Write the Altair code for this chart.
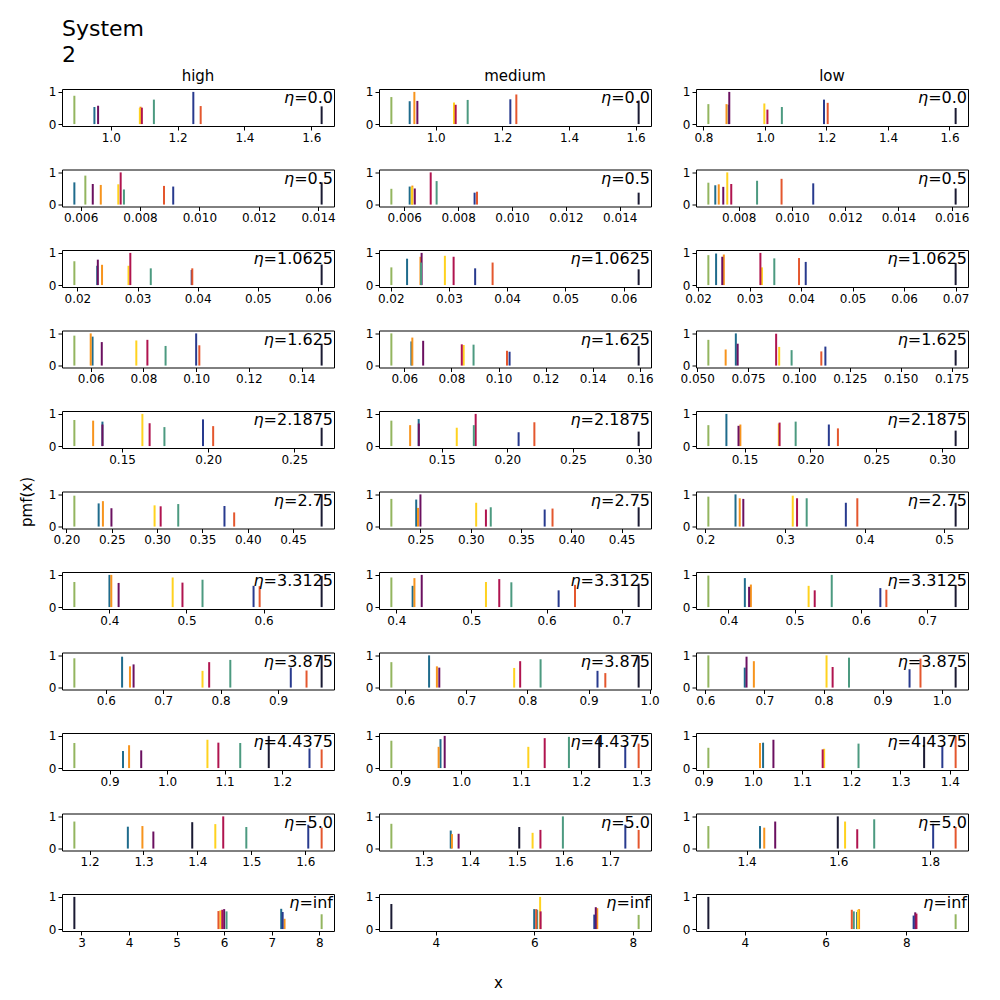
import altair as alt
import pandas as pd

SERIES = ["olive", "teal", "orange", "purple", "yellow", "crimson", "seagreen", "navy", "redorange", "black"]
COLORS = ["#93b55f", "#1f6b8c", "#f7941d", "#6b1060", "#ffd21f", "#b0144f", "#4c9a80", "#283a8e", "#e4572e", "#1a1a33"]
ETAS = ["0.0", "0.5", "1.0625", "1.625", "2.1875", "2.75", "3.3125", "3.875", "4.4375", "5.0", "inf"]
COLUMNS = ["high", "medium", "low"]

X_HIGH = [
    [0.891, 0.951, 1.089, 0.962, 1.087, 1.093, 1.129, 1.247, 1.269, 1.631],
    [0.00616, 0.00579, 0.00668, 0.00641, 0.00727, 0.00735, 0.00746, 0.00912, 0.00881, 0.01412],
    [0.0195, 0.0233, 0.0241, 0.0234, 0.0285, 0.0288, 0.0322, 0.0390, 0.0391, 0.0606],
    [0.0538, 0.0607, 0.0600, 0.0642, 0.0773, 0.0815, 0.0884, 0.1000, 0.1012, 0.1476],
    [0.1223, 0.1386, 0.1332, 0.1386, 0.1618, 0.1660, 0.1746, 0.1970, 0.2029, 0.2659],
    [0.2087, 0.2355, 0.2402, 0.2496, 0.2972, 0.3039, 0.3233, 0.3743, 0.3850, 0.4815],
    [0.3546, 0.4001, 0.4025, 0.4120, 0.4821, 0.4948, 0.5208, 0.5870, 0.5949, 0.6753],
    [0.5453, 0.6284, 0.6421, 0.6484, 0.7684, 0.7800, 0.8168, 0.9221, 0.9495, 0.9758],
    [0.8389, 0.9234, 0.9340, 0.9551, 1.0702, 1.0892, 1.1272, 1.2476, 1.2687, 1.1768],
    [1.1718, 1.2710, 1.2980, 1.3183, 1.4332, 1.4479, 1.4907, 1.6056, 1.6304, 1.3904],
    [8.05, 7.20, 7.27, 6.00, 5.92, 5.96, 6.05, 7.23, 5.88, 2.85],
]
H_HIGH = [
    [0.88, 0.53, 0.54, 0.57, 0.50, 0.51, 0.76, 1.00, 0.56, 0.55],
    [0.90, 0.69, 0.61, 0.64, 0.63, 1.00, 0.47, 0.56, 0.58, 0.69],
    [0.74, 0.60, 0.63, 0.79, 0.60, 1.00, 0.52, 0.47, 0.52, 0.64],
    [0.93, 0.90, 1.00, 0.73, 0.78, 0.80, 0.61, 1.00, 0.63, 0.68],
    [0.81, 0.76, 0.79, 0.67, 1.00, 0.71, 0.59, 0.83, 0.62, 0.57],
    [0.96, 0.72, 0.79, 0.57, 0.66, 0.63, 0.70, 0.64, 0.44, 1.00],
    [0.78, 1.00, 1.00, 0.75, 0.92, 0.76, 0.85, 0.66, 0.65, 0.97],
    [0.91, 0.96, 0.66, 0.72, 0.52, 0.79, 0.86, 0.62, 0.53, 1.00],
    [0.78, 0.53, 0.71, 0.55, 0.88, 0.79, 0.78, 0.61, 0.58, 1.00],
    [0.84, 0.68, 0.70, 0.53, 0.76, 1.00, 0.67, 0.74, 0.65, 0.82],
    [0.46, 0.63, 0.32, 0.62, 0.58, 0.60, 0.55, 0.53, 0.56, 1.00],
]
X_MED = [
    [0.867, 0.922, 0.936, 0.945, 1.055, 1.060, 1.096, 1.224, 1.242, 1.609],
    [0.00552, 0.00620, 0.00630, 0.00639, 0.00628, 0.00698, 0.00720, 0.00861, 0.00870, 0.01470],
    [0.0201, 0.0228, 0.0251, 0.0253, 0.0293, 0.0308, 0.0252, 0.0345, 0.0375, 0.0626],
    [0.0545, 0.0630, 0.0634, 0.0680, 0.0852, 0.0844, 0.0894, 0.1047, 0.1036, 0.1595],
    [0.1117, 0.1325, 0.1260, 0.1326, 0.1615, 0.1759, 0.1745, 0.2086, 0.2206, 0.3000],
    [0.2211, 0.2458, 0.2476, 0.2500, 0.3054, 0.3151, 0.3199, 0.3735, 0.3813, 0.4669],
    [0.3935, 0.4218, 0.4242, 0.4339, 0.5194, 0.5371, 0.5532, 0.6161, 0.6379, 0.7226],
    [0.5775, 0.6392, 0.6520, 0.6559, 0.7784, 0.7882, 0.8216, 0.9147, 0.9275, 0.9820],
    [0.8838, 0.9657, 0.9626, 0.9727, 1.1121, 1.1394, 1.1798, 1.2737, 1.2960, 1.2303],
    [1.2312, 1.3584, 1.3610, 1.3753, 1.5338, 1.5506, 1.5987, 1.7325, 1.7610, 1.5052],
    [8.12, 6.00, 7.28, 7.25, 6.12, 6.13, 6.06, 7.22, 6.04, 3.10],
]
H_MED = [
    [0.84, 0.71, 1.00, 0.72, 0.67, 0.60, 0.75, 0.77, 0.92, 0.73],
    [0.49, 0.56, 0.59, 0.50, 0.55, 1.00, 0.73, 0.37, 0.40, 0.37],
    [0.55, 0.82, 0.88, 1.00, 0.91, 0.88, 0.70, 0.52, 0.70, 0.49],
    [1.00, 0.75, 0.87, 0.77, 0.64, 0.66, 0.65, 0.43, 0.46, 0.60],
    [0.79, 0.84, 0.65, 0.70, 0.57, 1.00, 0.65, 0.43, 0.74, 0.45],
    [0.86, 0.84, 0.58, 1.00, 0.74, 0.53, 0.60, 0.53, 0.56, 0.60],
    [0.92, 0.66, 0.90, 1.00, 0.78, 0.87, 0.77, 0.52, 0.69, 0.73],
    [0.79, 1.00, 0.66, 0.62, 0.61, 0.82, 0.88, 0.52, 0.45, 0.98],
    [0.85, 0.90, 0.66, 1.00, 0.66, 0.93, 0.97, 0.71, 0.76, 0.97],
    [0.77, 0.56, 0.45, 0.46, 0.49, 0.58, 1.00, 0.74, 0.58, 0.67],
    [0.44, 0.62, 0.65, 0.68, 1.00, 0.55, 0.60, 0.45, 0.62, 0.78],
]
X_LOW = [
    [0.816, 0.882, 0.875, 0.884, 0.998, 1.008, 1.055, 1.192, 1.204, 1.620],
    [0.00686, 0.00712, 0.00725, 0.00742, 0.00757, 0.00772, 0.00869, 0.01080, 0.00961, 0.01615],
    [0.0220, 0.0235, 0.0250, 0.0247, 0.0324, 0.0321, 0.0348, 0.0409, 0.0396, 0.0700],
    [0.0555, 0.0690, 0.0640, 0.0699, 0.0903, 0.0888, 0.0964, 0.1130, 0.1110, 0.1770],
    [0.1225, 0.1362, 0.1468, 0.1454, 0.1760, 0.1766, 0.1888, 0.2140, 0.2209, 0.3103],
    [0.2038, 0.2379, 0.2432, 0.2477, 0.3098, 0.3152, 0.3273, 0.3765, 0.3909, 0.5144],
    [0.3697, 0.4248, 0.4339, 0.4312, 0.5211, 0.5303, 0.5560, 0.6294, 0.6385, 0.7431],
    [0.6051, 0.6667, 0.6821, 0.6697, 0.8051, 0.8154, 0.8431, 0.9456, 0.9641, 1.0236],
    [0.9099, 1.0210, 1.0148, 1.0420, 1.1450, 1.1420, 1.2148, 1.3850, 1.4120, 1.3480],
    [1.3166, 1.4291, 1.4384, 1.4623, 1.6146, 1.6411, 1.6781, 1.8066, 1.8556, 1.5987],
    [9.22, 6.78, 6.83, 8.22, 6.80, 8.25, 6.70, 8.18, 6.65, 3.10],
]
H_LOW = [
    [0.62, 0.60, 0.62, 1.00, 0.64, 0.45, 0.53, 0.76, 0.66, 0.50],
    [0.68, 0.60, 0.63, 0.55, 1.00, 0.64, 0.74, 0.66, 0.80, 0.50],
    [0.93, 0.98, 0.95, 0.88, 0.55, 1.00, 0.83, 0.72, 0.84, 0.69],
    [0.80, 1.00, 0.50, 0.68, 0.58, 0.99, 0.48, 0.59, 0.44, 0.48],
    [0.65, 1.00, 0.67, 0.63, 0.70, 0.73, 0.76, 0.67, 0.55, 0.48],
    [0.93, 1.00, 0.88, 0.86, 0.96, 0.88, 0.88, 0.74, 0.88, 0.74],
    [0.98, 0.90, 0.70, 0.63, 0.66, 0.52, 1.00, 0.59, 0.54, 0.69],
    [1.00, 0.62, 0.82, 0.96, 1.00, 0.64, 0.93, 0.57, 0.90, 0.64],
    [0.63, 0.79, 0.78, 0.88, 0.60, 0.58, 0.76, 0.69, 1.00, 0.97],
    [0.70, 0.70, 0.65, 0.84, 0.84, 0.60, 0.91, 0.77, 0.67, 1.00],
    [0.46, 0.53, 0.62, 0.52, 0.60, 0.48, 0.55, 0.42, 0.60, 1.00],
]

TICKS_HIGH = [
    [1.0, 1.2, 1.4, 1.6],
    [0.006, 0.008, 0.010, 0.012, 0.014],
    [0.02, 0.03, 0.04, 0.05, 0.06],
    [0.06, 0.08, 0.10, 0.12, 0.14],
    [0.15, 0.20, 0.25],
    [0.20, 0.25, 0.30, 0.35, 0.40, 0.45],
    [0.4, 0.5, 0.6],
    [0.6, 0.7, 0.8, 0.9],
    [0.9, 1.0, 1.1, 1.2],
    [1.2, 1.3, 1.4, 1.5, 1.6],
    [3, 4, 5, 6, 7, 8],
]
TICKS_MED = [
    [1.0, 1.2, 1.4, 1.6],
    [0.006, 0.008, 0.010, 0.012, 0.014],
    [0.02, 0.03, 0.04, 0.05, 0.06],
    [0.06, 0.08, 0.10, 0.12, 0.14, 0.16],
    [0.15, 0.20, 0.25, 0.30],
    [0.25, 0.30, 0.35, 0.40, 0.45],
    [0.4, 0.5, 0.6, 0.7],
    [0.6, 0.7, 0.8, 0.9, 1.0],
    [0.9, 1.0, 1.1, 1.2, 1.3],
    [1.3, 1.4, 1.5, 1.6, 1.7],
    [4, 6, 8],
]
TICKS_LOW = [
    [0.8, 1.0, 1.2, 1.4, 1.6],
    [0.008, 0.010, 0.012, 0.014, 0.016],
    [0.02, 0.03, 0.04, 0.05, 0.06, 0.07],
    [0.050, 0.075, 0.100, 0.125, 0.150, 0.175],
    [0.15, 0.20, 0.25, 0.30],
    [0.2, 0.3, 0.4, 0.5],
    [0.4, 0.5, 0.6, 0.7],
    [0.6, 0.7, 0.8, 0.9, 1.0],
    [0.9, 1.0, 1.1, 1.2, 1.3, 1.4],
    [1.4, 1.6, 1.8],
    [4, 6, 8],
]
FMT_HIGH = [".1f", ".3f", ".2f", ".2f", ".2f", ".2f", ".1f", ".1f", ".1f", ".1f", "d"]
FMT_MED = [".1f", ".3f", ".2f", ".2f", ".2f", ".2f", ".1f", ".1f", ".1f", ".1f", "d"]
FMT_LOW = [".1f", ".3f", ".2f", ".3f", ".2f", ".1f", ".1f", ".1f", ".1f", ".1f", "d"]

XS = [X_HIGH, X_MED, X_LOW]
HS = [H_HIGH, H_MED, H_LOW]
TICKS = [TICKS_HIGH, TICKS_MED, TICKS_LOW]
FMTS = [FMT_HIGH, FMT_MED, FMT_LOW]

W, H = 272, 37
FONT = "DejaVu Sans"
ETA_SIZE = 16
# DejaVu Sans advance widths (em) used to place the italic eta before "=value"
ADV = {"=": 0.838, ".": 0.318, "i": 0.278, "n": 0.634, "f": 0.352}


def text_width(s, size):
    return sum(ADV.get(ch, 0.636) for ch in s) * size


def text_layer(txt, x, y, size, align="left", style="normal"):
    return alt.Chart(pd.DataFrame({"t": [txt]})).mark_text(
        align=align, baseline="alphabetic", fontSize=size, font=FONT,
        color="black", lineHeight=26, fontStyle=style
    ).encode(text="t", x=alt.value(x), y=alt.value(y))


def make_panel(c, r):
    xs, hs = XS[c][r], HS[c][r]
    lo, hi = min(xs), max(xs)
    rng = hi - lo
    dom = [lo - 0.05 * rng, hi + 0.05 * rng]
    eps = 1e-9 * max(1.0, abs(hi))
    tv = [t for t in TICKS[c][r] if dom[0] - eps <= t <= dom[1] + eps]
    df = pd.DataFrame({"x": xs, "h": hs, "s": SERIES})

    xaxis = dict(values=tv, format=FMTS[c][r], title=None)
    if r == 10 and c == 1:
        xaxis = dict(values=tv, format=FMTS[c][r], title="x", titleX=119, titleY=51,
                     titleAlign="center", titleBaseline="middle", titleFontSize=15,
                     titleFontWeight="normal", titleFont=FONT, titleColor="black")
    yaxis = dict(values=[0, 1], format="d", title=None)
    if r == 5 and c == 0:
        yaxis = dict(values=[0, 1], format="d", title="pmf(x)", titleX=-36, titleY=10,
                     titleAngle=270, titleAlign="center", titleBaseline="middle",
                     titleFontSize=15, titleFontWeight="normal", titleFont=FONT,
                     titleColor="black")

    rules = alt.Chart(df).mark_rule(strokeWidth=2).encode(
        x=alt.X("x:Q", scale=alt.Scale(domain=dom, nice=False, zero=False),
                axis=alt.Axis(**xaxis)),
        y=alt.Y("h:Q", scale=alt.Scale(domain=[-0.06, 1.09], nice=False, zero=False),
                axis=alt.Axis(**yaxis)),
        y2=alt.datum(0),
        color=alt.Color("s:N", scale=alt.Scale(domain=SERIES, range=COLORS), legend=None),
    )
    rest = "=" + ETAS[r]
    layers = [
        rules,
        text_layer(rest, W - 1, 14, ETA_SIZE, align="right"),
        text_layer("η", W - 1 - text_width(rest, ETA_SIZE), 14, ETA_SIZE,
                   align="right", style="italic"),
    ]
    if r == 0:
        layers.append(text_layer(COLUMNS[c], W / 2, -8, 15, align="center"))
    if r == 0 and c == 0:
        layers.append(text_layer(["System", "2"], 0, -53, 22))
    return alt.layer(*layers).properties(width=W, height=H)


panels = [make_panel(c, r) for r in range(len(ETAS)) for c in range(3)]
chart = alt.concat(*panels, columns=3, spacing={"row": 43.5, "column": 45},
                   bounds="flush").properties(
    padding={"left": 10, "top": 9, "right": 5, "bottom": 5}
).configure(font=FONT).configure_view(
    stroke="black", strokeWidth=1
).configure_axis(
    grid=False, domain=False, labelFontSize=12, labelColor="black", labelFont=FONT,
    tickColor="black", tickSize=4, tickWidth=1, labelPadding=2
)

chart.save("out.html", embed_options={"renderer": "svg", "actions": False})
